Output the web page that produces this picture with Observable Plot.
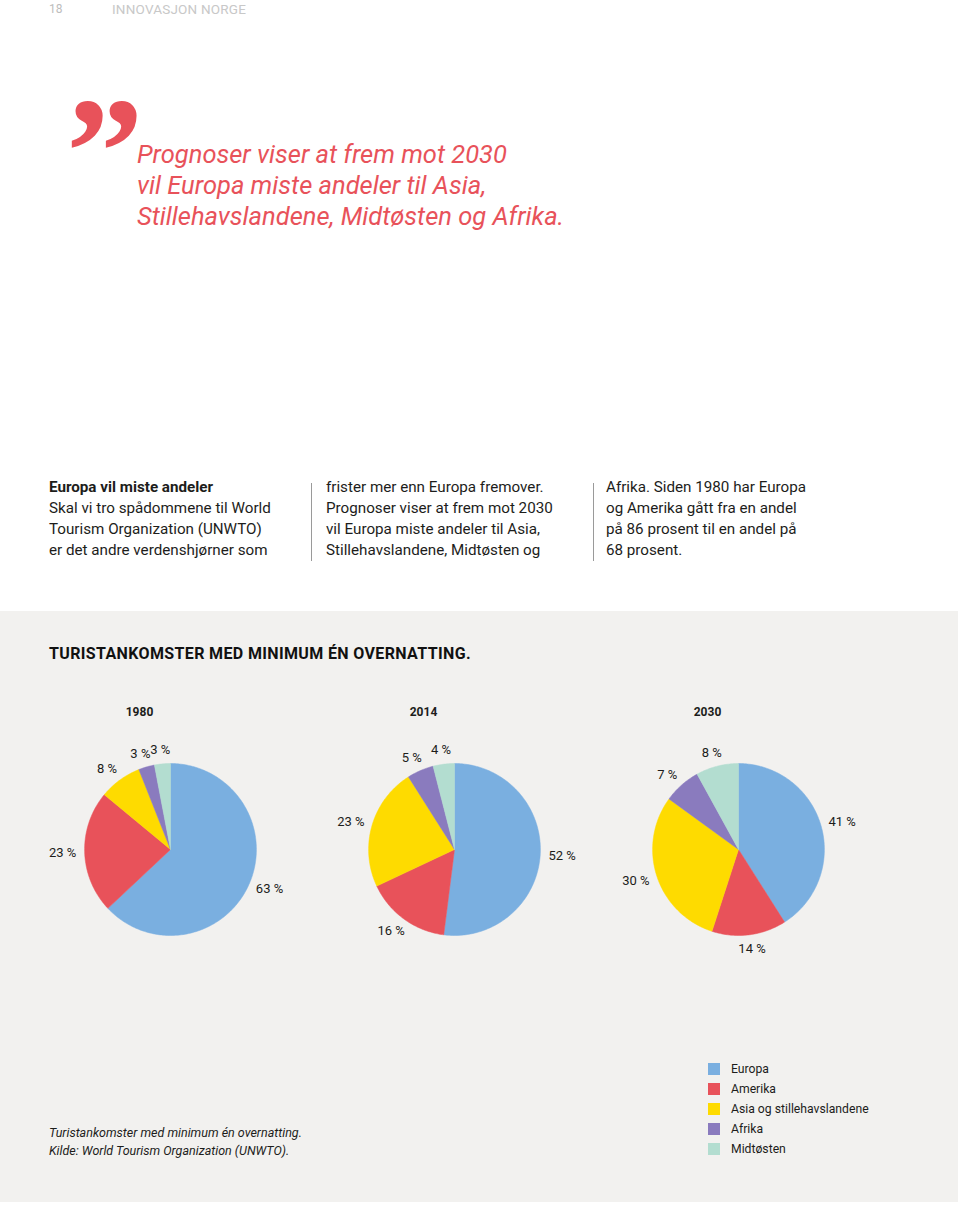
<!DOCTYPE html>
<html lang="no">
<head>
<meta charset="utf-8">
<script src="https://cdn.jsdelivr.net/npm/d3@7"></script>
<script src="https://cdn.jsdelivr.net/npm/@observablehq/plot@0.6"></script>
<style>
  body { margin: 0; background: #fff; font-family: Roboto, "Noto Sans", sans-serif; color: #1d1d1b; }
  #page { position: relative; width: 960px; height: 1206px; overflow: hidden; background: #fff; }
  .abs { position: absolute; white-space: nowrap; }
  .pageno { left: 49px; top: 2px; font-size: 12px; line-height: 14px; color: #bdbdbd; }
  .running { left: 112px; top: 2px; font-size: 13.5px; line-height: 14px; color: #c8c8c8; letter-spacing: 0.2px; }
  .qmark { left: 66px; top: 75px; font-size: 155px; line-height: 155px; color: #e8525a; font-weight: 700; font-family: "Liberation Serif", "Times New Roman", serif; }
  .quote { left: 137px; top: 139px; font-size: 25.5px; line-height: 31px; color: #e8525a; font-style: italic; font-weight: 400; }
  .col { top: 477px; font-size: 15.2px; line-height: 21px; color: #1d1d1b; }
  .rule { width: 1px; background: #9a9a9a; top: 483px; height: 78px; }
  .panel { left: 0; top: 611px; width: 958px; height: 591px; background: #f2f1ef; }
  .ctitle { left: 49px; top: 645px; font-size: 16px; line-height: 18px; font-weight: 700; letter-spacing: 0.36px; color: #111; }
  #chart { left: 0; top: 690px; }
  .caption { left: 49px; top: 1124px; font-size: 12.5px; line-height: 18px; font-style: italic; color: #1d1d1b; }
  .legend { left: 708px; top: 1059px; font-size: 12.2px; line-height: 20px; }
  .legend div { display: flex; align-items: center; height: 20px; }
  .legend span.sw { display: inline-block; width: 12px; height: 12px; margin-right: 11px; }
  #chart g[aria-label="fx-axis tick label"] text { font-weight: 700; }
</style>
</head>
<body>
<div id="page">
  <div class="abs pageno">18</div>
  <div class="abs running">INNOVASJON NORGE</div>
  <div class="abs qmark">”</div>
  <div class="abs quote">Prognoser viser at frem mot 2030<br>vil Europa miste andeler til Asia,<br>Stillehavslandene, Midtøsten og Afrika.</div>

  <div class="abs col" style="left:49px"><b>Europa vil miste andeler</b><br>Skal vi tro spådommene til World<br>Tourism Organization (UNWTO)<br>er det andre verdenshjørner som</div>
  <div class="abs rule" style="left:311px"></div>
  <div class="abs col" style="left:326px">frister mer enn Europa fremover.<br>Prognoser viser at frem mot 2030<br>vil Europa miste andeler til Asia,<br>Stillehavslandene, Midtøsten og</div>
  <div class="abs rule" style="left:593px"></div>
  <div class="abs col" style="left:606px">Afrika. Siden 1980 har Europa<br>og Amerika gått fra en andel<br>på 86 prosent til en andel på<br>68 prosent.</div>

  <div class="abs panel"></div>
  <div class="abs ctitle">TURISTANKOMSTER MED MINIMUM ÉN OVERNATTING.</div>
  <div class="abs" id="chart"></div>
  <div class="abs caption">Turistankomster med minimum én overnatting.<br>Kilde: World Tourism Organization (UNWTO).</div>
  <div class="abs legend" id="legend"></div>
</div>
<script>
// ---- data ----
const years = ["1980", "2014", "2030"];
const regions = ["Europa", "Amerika", "Asia og stillehavslandene", "Afrika", "Midtøsten"];
const share1980 = [63, 23, 8, 3, 3];
const share2014 = [52, 16, 23, 5, 4];
const share2030 = [41, 14, 30, 7, 8];
const colors = ["#7aafe0", "#e8525a", "#fedb00", "#8a7bbe", "#b3ddd0"];

// ---- layout ----
const W = 960, H = 280, MT = 28, MB = 0, ML = 27, MR = 80;
const R_PX = 86;          // pie radius in pixels
const CY = 131;           // pie centre below plot top, pixels
const bandW = (W - ML - MR) / years.length;
const xHalf = bandW / 2 / R_PX;
const yTop = CY / R_PX, yBot = -(H - MT - MB - CY) / R_PX;

// ---- build slice outlines and labels from the shares ----
const shares = {"1980": share1980, "2014": share2014, "2030": share2030};
const pts = [], labels = [];
years.forEach(yr => {
  const arcs = d3.pie().sort(null).value(d => d)(shares[yr]);
  arcs.forEach((a, i) => {
    const key = yr + "-" + i, region = regions[i];
    const n = Math.max(2, Math.ceil((a.endAngle - a.startAngle) / (Math.PI / 180)));
    pts.push({year: yr, region, key, x: 0, y: 0});
    for (let k = 0; k <= n; k++) {
      const t = a.startAngle + (a.endAngle - a.startAngle) * k / n;
      pts.push({year: yr, region, key, x: Math.sin(t), y: Math.cos(t)});
    }
    pts.push({year: yr, region, key, x: 0, y: 0});
    const mid = (a.startAngle + a.endAngle) / 2;
    labels.push({year: yr, region, text: a.data + " %",
      x: Math.sin(mid) * (R_PX + 22) / R_PX,
      y: Math.cos(mid) * (R_PX + 14) / R_PX});
  });
});

const chart = Plot.plot({
  width: W, height: H,
  marginTop: MT, marginBottom: MB, marginLeft: ML, marginRight: MR,
  style: {background: "transparent", fontFamily: "Roboto, 'Noto Sans', sans-serif", fontSize: "12px", color: "#1d1d1b"},
  x: {domain: [-xHalf, xHalf], axis: null},
  y: {domain: [yBot, yTop], axis: null},
  fx: {domain: years, padding: 0},
  color: {domain: regions, range: colors},
  marks: [
    Plot.axisFx({anchor: "top", tickSize: 0, tickPadding: 3, dx: -31, label: null, fontSize: 12, fontWeight: "bold"}),
    Plot.line(pts, {fx: "year", x: "x", y: "y", z: "key", fill: "region", stroke: "region", strokeWidth: 0.5, curve: "linear"}),
    Plot.text(labels, {fx: "year", x: "x", y: "y", text: "text", fill: "#1d1d1b", fontSize: 13})
  ]
});
document.getElementById("chart").appendChild(chart);

// ---- legend ----
const leg = document.getElementById("legend");
regions.forEach((r, i) => {
  const row = document.createElement("div");
  row.innerHTML = `<span class="sw" style="background:${colors[i]}"></span><span>${r}</span>`;
  leg.appendChild(row);
});
</script>
</body>
</html>
